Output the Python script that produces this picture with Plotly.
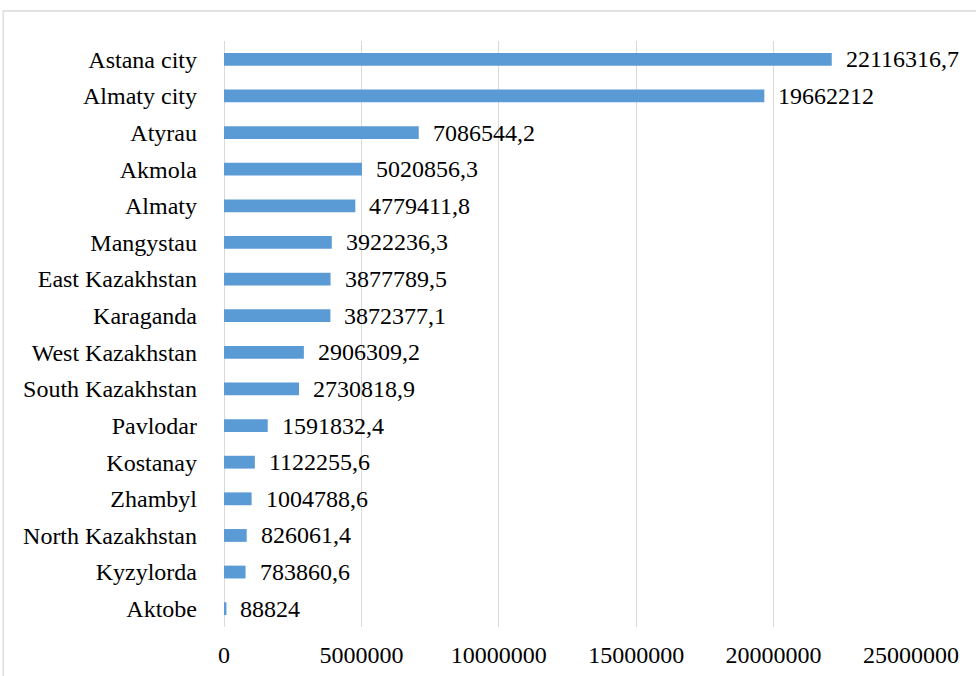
import plotly.graph_objects as go

regions = ["Astana city", "Almaty city", "Atyrau", "Akmola", "Almaty", "Mangystau",
           "East Kazakhstan", "Karaganda", "West Kazakhstan", "South Kazakhstan",
           "Pavlodar", "Kostanay", "Zhambyl", "North Kazakhstan", "Kyzylorda", "Aktobe"]
values = [22116316.7, 19662212, 7086544.2, 5020856.3, 4779411.8, 3922236.3,
          3877789.5, 3872377.1, 2906309.2, 2730818.9, 1591832.4, 1122255.6,
          1004788.6, 826061.4, 783860.6, 88824]
value_labels = ["22116316,7", "19662212", "7086544,2", "5020856,3", "4779411,8", "3922236,3",
                "3877789,5", "3872377,1", "2906309,2", "2730818,9", "1591832,4", "1122255,6",
                "1004788,6", "826061,4", "783860,6", "88824"]
x_ticks = [0, 5000000, 10000000, 15000000, 20000000, 25000000]

FONT = "Liberation Serif, Times New Roman, serif"
FS = 24

fig = go.Figure()
fig.add_trace(go.Bar(
    x=values, y=regions, orientation="h",
    marker=dict(color="#5B9BD5", line=dict(width=0)),
    width=0.35,
    hoverinfo="skip",
))

for v, r, t in zip(values, regions, value_labels):
    fig.add_annotation(x=v, y=r, text=t, showarrow=False, xanchor="left",
                       yanchor="middle", xshift=12,
                       font=dict(family=FONT, size=FS, color="#000000"))

fig.update_layout(
    width=976, height=676,
    margin=dict(l=224, r=64.5, t=41, b=49),
    paper_bgcolor="white", plot_bgcolor="white",
    showlegend=False,
    font=dict(family=FONT, size=FS, color="#000000"),
    xaxis=dict(range=[0, 25000000], tickvals=x_ticks,
               ticktext=[str(v) for v in x_ticks], automargin=False,
               showgrid=True, gridcolor="#d9d9d9", gridwidth=1.3,
               zeroline=True, zerolinecolor="#d9d9d9", zerolinewidth=1.3,
               showline=False, ticks="", ticklabelstandoff=11,
               tickfont=dict(family=FONT, size=FS, color="#000000")),
    yaxis=dict(categoryorder="array", categoryarray=regions, autorange="reversed",
               automargin=False,
               showgrid=False, zeroline=False, showline=False, ticks="",
               ticklabelstandoff=26,
               tickfont=dict(family=FONT, size=FS, color="#000000")),
)

fig.add_shape(type="rect", xref="paper", yref="paper",
              x0=-0.3215, x1=1.2, y0=-0.2, y1=1.0512,
              line=dict(color="#d9d9d9", width=1.3), fillcolor="rgba(0,0,0,0)",
              layer="below")

fig.write_html("out.html")
